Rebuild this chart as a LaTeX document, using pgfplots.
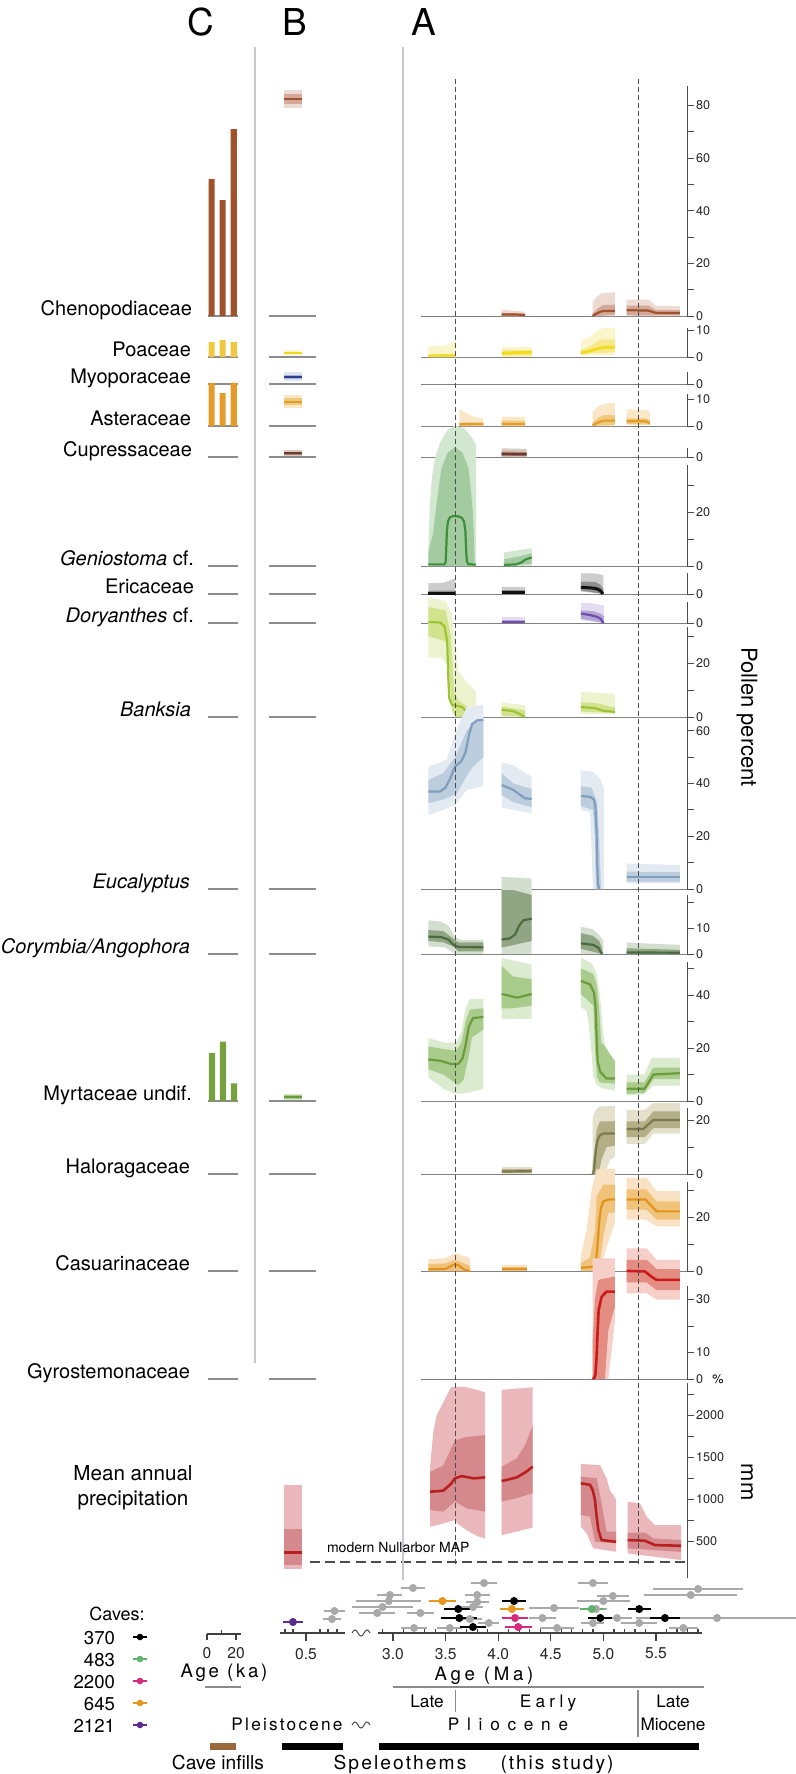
\documentclass[border=0pt]{standalone}
\usepackage{fontspec}
\setmainfont{TeX Gyre Heros}
\usepackage{pgfplots}
\pgfplotsset{compat=1.18}

\definecolor{cheL}{HTML}{A0522D}\definecolor{cheI}{HTML}{D4A999}\definecolor{cheO}{HTML}{EDDAD2}
\definecolor{poaL}{HTML}{F2DA1C}\definecolor{poaI}{HTML}{F7EA8C}\definecolor{poaO}{HTML}{FBF5CC}\definecolor{poaC}{HTML}{F0C840}
\definecolor{myoL}{HTML}{2E3E92}\definecolor{myoI}{HTML}{A8B2D8}\definecolor{myoO}{HTML}{DFE3F1}
\definecolor{astL}{HTML}{E39B2A}\definecolor{astI}{HTML}{F1C97C}\definecolor{astO}{HTML}{F9E7C8}
\definecolor{cupL}{HTML}{6B3B2A}\definecolor{cupI}{HTML}{A88377}\definecolor{cupO}{HTML}{D8C8C2}
\definecolor{genL}{HTML}{3E8E3E}\definecolor{genI}{HTML}{A2CC9F}\definecolor{genO}{HTML}{D2E7CF}
\definecolor{eriL}{HTML}{111111}\definecolor{eriI}{HTML}{8F8F8F}\definecolor{eriO}{HTML}{CDCDCD}
\definecolor{dorL}{HTML}{6F4FA8}\definecolor{dorI}{HTML}{B4A4D7}\definecolor{dorO}{HTML}{E4DDF1}
\definecolor{banL}{HTML}{9DC233}\definecolor{banI}{HTML}{D2E38E}\definecolor{banO}{HTML}{ECF3CE}
\definecolor{eucL}{HTML}{7F9DBD}\definecolor{eucI}{HTML}{BCCDDE}\definecolor{eucO}{HTML}{E3EAF2}
\definecolor{corL}{HTML}{4D6B41}\definecolor{corI}{HTML}{8FA583}\definecolor{corO}{HTML}{D4DECE}
\definecolor{myrL}{HTML}{6B9B3A}\definecolor{myrI}{HTML}{A9CC8C}\definecolor{myrO}{HTML}{DAEBD0}\definecolor{myrC}{HTML}{77A03E}
\definecolor{halL}{HTML}{7B7A4C}\definecolor{halI}{HTML}{B4AE87}\definecolor{halO}{HTML}{E4E0CB}
\definecolor{casL}{HTML}{E2931D}\definecolor{casI}{HTML}{F1C27A}\definecolor{casO}{HTML}{F9E2C3}
\definecolor{gyrL}{HTML}{CC1A1A}\definecolor{gyrI}{HTML}{E48D82}\definecolor{gyrO}{HTML}{F6CFC8}
\definecolor{mapL}{HTML}{B82020}\definecolor{mapI}{HTML}{D6898C}\definecolor{mapO}{HTML}{EAB8BA}
\definecolor{dgray}{HTML}{A9A9A9}\definecolor{cOr}{HTML}{E8961E}\definecolor{cMa}{HTML}{D62A7D}
\definecolor{cGr}{HTML}{5FB36A}\definecolor{cPu}{HTML}{5A2D8C}\definecolor{sepc}{HTML}{C5C8D0}
\definecolor{brn}{HTML}{9B6A3C}

\newcommand{\fs}[1]{\fontsize{#1}{#1}\selectfont}
\newcommand{\bnd}[2]{\addplot[fill=#1,draw=none,forget plot] coordinates {#2};}
\newcommand{\lin}[3][1.1pt]{\addplot[draw=#2,line width=#1,line join=round,forget plot] coordinates {#3};}
\newcommand{\bars}[2]{\addplot[ybar,bar width=3.1pt,fill=#1,draw=none,forget plot] coordinates {#2};}

\pgfplotsset{
 pbase/.style={scale only axis, anchor=south west, clip=false, ymin=0,
   scaled y ticks=false, scaled x ticks=false,
   /pgf/number format/assume math mode=true, /pgf/number format/1000 sep={}},
 pA/.style={pbase, xmin=3.266, xmax=5.795, width=133pt,
   axis x line*=bottom, axis y line*=right,
   x axis line style={draw=black!50, line width=0.5pt, -},
   y axis line style={draw=black!70, line width=0.5pt, -},
   xtick=\empty, tick align=outside, major tick length=3.3pt, minor tick length=3.3pt,
   tick style={draw=black!70, line width=0.5pt},
   yticklabel style={font=\fs{6.3}, text=black!85, inner sep=1pt}},
 pB/.style={pbase, xmin=0.2533, xmax=0.5667, width=23.5pt, hide y axis,
   axis x line*=bottom, x axis line style={draw=black!45, line width=0.6pt, -}, xtick=\empty},
 pC/.style={pbase, xmin=0.69, xmax=21.4, width=15pt, hide y axis,
   axis x line*=bottom, x axis line style={draw=black!45, line width=0.6pt, -}, xtick=\empty},
 pD/.style={pbase, ymax=55, height=27.5pt, hide y axis, axis x line*=bottom,
   x axis line style={draw=black!75, line width=0.6pt, -},
   tick align=outside, major tick length=4pt, tick style={draw=black!75, line width=0.6pt},
   extra x tick labels={}, extra x tick style={tick align=inside, major tick length=2.2pt},
   xticklabel style={font=\fs{7.8}, text=black!85}},
}

\begin{document}
\begin{tikzpicture}
\path[use as bounding box] (0,0) rectangle (398pt,-887pt);

% ---------- Chenopodiaceae
\begin{axis}[pA, at={(210.5pt,-158pt)}, height=115.1pt, ymax=87.5, ytick={0,20,40,60,80}, minor ytick={10,30,50,70}]
\bnd{cheO}{(4.033,2.4)(4.255,1.6)(4.255,0)(4.033,0)}
\bnd{cheI}{(4.033,1.2)(4.255,0.9)(4.255,0)(4.033,0)}
\lin{cheL}{(4.033,0.6)(4.15,0.6)(4.255,0.4)}
\bnd{cheO}{(4.898,5.3)(4.94,7.5)(4.99,8.7)(5.11,9)(5.11,0)(4.898,0)}
\bnd{cheI}{(4.898,1)(4.95,3)(5.0,4.2)(5.11,4.3)(5.11,0.5)(4.95,0)(4.898,0)}
\lin{cheL}{(4.898,0)(4.93,0.8)(4.97,1.6)(5.0,1.9)(5.11,1.9)}
\bnd{cheO}{(5.221,6.2)(5.43,6.2)(5.50,3.9)(5.728,3.7)(5.728,0)(5.221,0)}
\bnd{cheI}{(5.221,4)(5.43,3.9)(5.50,2.3)(5.728,2.2)(5.728,0.2)(5.221,0.3)}
\lin{cheL}{(5.221,2.2)(5.42,2.1)(5.50,1.2)(5.728,1.1)}
\end{axis}
\begin{axis}[pB, at={(134.5pt,-158pt)}, height=115.1pt, ymax=87.5]
\bnd{cheO}{(0.353,85.9)(0.473,85.9)(0.473,79.1)(0.353,79.1)}
\bnd{cheI}{(0.353,84.4)(0.473,84.4)(0.473,80.6)(0.353,80.6)}
\lin{cheL}{(0.353,82.5)(0.473,82.5)}
\end{axis}
\begin{axis}[pC, at={(104pt,-158pt)}, height=115.1pt, ymax=87.5]
\bars{cheL}{(3.2,52)(10.8,44)(18.4,71)}
\end{axis}

% ---------- Poaceae
\begin{axis}[pA, at={(210.5pt,-178.5pt)}, height=14.45pt, ymax=10.7, ytick={0,10}]
\bnd{poaO}{(3.336,4)(3.478,4)(3.55,5)(3.593,5.8)(3.593,0)(3.336,0)}
\bnd{poaI}{(3.336,1)(3.593,1.2)(3.593,0)(3.336,0)}
\lin{poaL}{(3.336,0.5)(3.593,0.6)}
\bnd{poaO}{(4.033,3.6)(4.318,3.6)(4.318,0)(4.033,0)}
\bnd{poaI}{(4.033,2.7)(4.318,2.7)(4.318,0.5)(4.033,0.5)}
\lin[1.4pt]{poaL}{(4.033,1.4)(4.318,1.8)}
\bnd{poaO}{(4.787,5.8)(4.87,7.5)(4.95,10)(5.0,10.7)(5.11,10.7)(5.11,0.8)(4.787,0.6)}
\bnd{poaI}{(4.787,2.7)(4.87,3.8)(4.95,6)(5.0,6.5)(5.11,6.5)(5.11,1.8)(4.95,1.4)(4.787,1)}
\lin[1.4pt]{poaL}{(4.787,1.5)(4.87,2.2)(4.95,3.2)(5.03,3.6)(5.11,3.6)}
\end{axis}
\begin{axis}[pB, at={(134.5pt,-178.5pt)}, height=14.45pt, ymax=10.7]
\bnd{poaO}{(0.353,2.6)(0.473,2.6)(0.473,0.6)(0.353,0.6)}
\lin{poaL}{(0.353,1.5)(0.473,1.5)}
\end{axis}
\begin{axis}[pC, at={(104pt,-178.5pt)}, height=14.45pt, ymax=10.7]
\bars{poaC}{(3.2,5.5)(10.8,6.3)(18.4,5.5)}
\end{axis}

% ---------- Myoporaceae
\begin{axis}[pA, at={(210.5pt,-192pt)}, height=5.94pt, ymax=4.4, ytick={0}]
\end{axis}
\begin{axis}[pB, at={(134.5pt,-192pt)}, height=5.94pt, ymax=4.4]
\bnd{myoO}{(0.353,4.4)(0.473,4.4)(0.473,1.1)(0.353,1.1)}
\bnd{myoI}{(0.353,3.5)(0.473,3.5)(0.473,1.9)(0.353,1.9)}
\lin{myoL}{(0.353,2.7)(0.473,2.7)}
\end{axis}
\begin{axis}[pC, at={(104pt,-192pt)}, height=5.94pt, ymax=4.4]
\end{axis}

% ---------- Asteraceae
\begin{axis}[pA, at={(210.5pt,-213pt)}, height=16.07pt, ymax=11.9, ytick={0,10}]
\bnd{astO}{(3.631,6.2)(3.70,4.7)(3.764,3.5)(3.859,2.8)(3.859,0)(3.631,0)}
\bnd{astI}{(3.631,1.3)(3.859,1.2)(3.859,0)(3.631,0)}
\lin{astL}{(3.631,0.6)(3.75,0.8)(3.859,0.8)}
\bnd{astO}{(4.033,3.5)(4.255,3.3)(4.255,0)(4.033,0)}
\bnd{astI}{(4.033,2)(4.255,1.9)(4.255,0)(4.033,0)}
\lin{astL}{(4.033,0.7)(4.255,0.7)}
\bnd{astO}{(4.898,5.3)(4.95,7.3)(5.03,8.4)(5.11,8.6)(5.11,0)(4.898,0)}
\bnd{astI}{(4.898,1.2)(4.95,3)(5.0,4)(5.11,4)(5.11,0.5)(4.898,0)}
\lin{astL}{(4.898,0.3)(4.95,1.3)(5.0,2)(5.11,2)}
\bnd{astO}{(5.221,6.2)(5.41,5.9)(5.443,5)(5.443,0.5)(5.221,0.3)}
\bnd{astI}{(5.221,2.8)(5.41,2.8)(5.443,2)(5.443,0.5)(5.221,0.8)}
\lin{astL}{(5.221,1.8)(5.40,1.8)(5.443,1)}
\end{axis}
\begin{axis}[pB, at={(134.5pt,-213pt)}, height=16.07pt, ymax=11.9]
\bnd{astO}{(0.353,11.5)(0.473,11.5)(0.473,6.7)(0.353,6.7)}
\bnd{astI}{(0.353,10.4)(0.473,10.4)(0.473,7.8)(0.353,7.8)}
\lin{astL}{(0.353,8.9)(0.473,8.9)}
\end{axis}
\begin{axis}[pC, at={(104pt,-213pt)}, height=16.07pt, ymax=11.9]
\bars{astL}{(3.2,16)(10.8,12.2)(18.4,16)}
\end{axis}

% ---------- Cupressaceae
\begin{axis}[pA, at={(210.5pt,-228.5pt)}, height=4.46pt, ymax=3.3, ytick={0}]
\bnd{cupO}{(4.033,3.2)(4.271,3)(4.271,0)(4.033,0)}
\bnd{cupI}{(4.033,2)(4.271,1.9)(4.271,0.3)(4.033,0.3)}
\lin{cupL}{(4.033,1.1)(4.271,1)}
\end{axis}
\begin{axis}[pB, at={(134.5pt,-228.5pt)}, height=4.46pt, ymax=3.3]
\bnd{cupO}{(0.353,2.6)(0.473,2.6)(0.473,0.3)(0.353,0.3)}
\bnd{cupI}{(0.353,2)(0.473,2)(0.473,0.8)(0.353,0.8)}
\lin{cupL}{(0.353,1.4)(0.473,1.4)}
\end{axis}
\begin{axis}[pC, at={(104pt,-228.5pt)}, height=4.46pt, ymax=3.3]
\end{axis}

% ---------- Geniostoma
\begin{axis}[pA, at={(210.5pt,-283pt)}, height=50.49pt, ymax=37.4, ytick={0,20}, minor ytick={10,30}]
\bnd{genO}{(3.336,7)(3.35,22)(3.37,33)(3.40,40)(3.45,46)(3.52,50.5)(3.59,52)(3.68,51)(3.76,47)(3.789,45)(3.789,0)(3.336,0)}
\bnd{genI}{(3.336,5)(3.38,12)(3.42,25)(3.46,36)(3.52,42)(3.59,44)(3.66,42)(3.72,36)(3.76,20)(3.775,3)(3.775,0)(3.336,0)}
\lin{genL}{(3.336,0.6)(3.49,0.6)(3.50,1.5)(3.505,5)(3.512,13)(3.522,16.5)(3.54,18)(3.57,18.5)(3.62,18.4)(3.655,17.8)(3.675,16.5)(3.688,13)(3.695,6)(3.702,1.8)(3.715,0.7)(3.789,0.5)}
\bnd{genO}{(4.055,5)(4.318,6.6)(4.318,0)(4.055,0)}
\bnd{genI}{(4.055,2.5)(4.2,3.5)(4.318,4.8)(4.318,0.8)(4.055,0)}
\lin{genL}{(4.055,0.4)(4.17,0.6)(4.22,1.3)(4.26,2.4)(4.318,3.2)}
\end{axis}
\begin{axis}[pB, at={(134.5pt,-283pt)}, height=50.49pt, ymax=37.4]
\end{axis}
\begin{axis}[pC, at={(104pt,-283pt)}, height=50.49pt, ymax=37.4]
\end{axis}

% ---------- Ericaceae
\begin{axis}[pA, at={(210.5pt,-297pt)}, height=10.53pt, ymax=7.8, ytick={0}]
\bnd{eriO}{(3.336,4)(3.48,4.2)(3.593,5.8)(3.593,0)(3.336,0)}
\bnd{eriI}{(3.336,1.2)(3.593,1.3)(3.593,0)(3.336,0)}
\lin[1.5pt]{eriL}{(3.336,0.3)(3.593,0.3)}
\bnd{eriO}{(4.033,2.7)(4.255,2.6)(4.255,0)(4.033,0)}
\bnd{eriI}{(4.033,1.5)(4.255,1.5)(4.255,0)(4.033,0)}
\lin[1.5pt]{eriL}{(4.033,0.5)(4.255,0.5)}
\bnd{eriO}{(4.787,7.6)(4.92,7.6)(4.999,7)(4.999,0)(4.94,0.3)(4.787,0.9)}
\bnd{eriI}{(4.787,4.6)(4.92,4.5)(4.97,3.5)(4.999,2)(4.999,0)(4.787,1.3)}
\lin[1.5pt]{eriL}{(4.787,2.5)(4.90,2.2)(4.94,1.9)(4.965,1.4)(4.985,0.6)(4.995,0)}
\end{axis}
\begin{axis}[pB, at={(134.5pt,-297pt)}, height=10.53pt, ymax=7.8]
\end{axis}
\begin{axis}[pC, at={(104pt,-297pt)}, height=10.53pt, ymax=7.8]
\end{axis}

% ---------- Doryanthes
\begin{axis}[pA, at={(210.5pt,-311.5pt)}, height=10.53pt, ymax=7.8, ytick={0}]
\bnd{dorO}{(4.033,2.2)(4.255,2.2)(4.255,0)(4.033,0)}
\bnd{dorI}{(4.033,1.2)(4.255,1.2)(4.255,0)(4.033,0)}
\lin{dorL}{(4.033,0.4)(4.255,0.4)}
\bnd{dorO}{(4.787,7.5)(4.90,7.3)(5.006,6.5)(5.006,0)(4.787,1)}
\bnd{dorI}{(4.787,4.7)(4.90,4.4)(4.97,3.6)(5.006,2.5)(5.006,0)(4.787,1.6)}
\lin{dorL}{(4.787,3.5)(4.88,2.9)(4.94,2.3)(4.975,1.5)(4.995,0.3)(5.0,0)}
\end{axis}
\begin{axis}[pB, at={(134.5pt,-311.5pt)}, height=10.53pt, ymax=7.8]
\end{axis}
\begin{axis}[pC, at={(104pt,-311.5pt)}, height=10.53pt, ymax=7.8]
\end{axis}

% ---------- Banksia
\begin{axis}[pA, at={(210.5pt,-358.5pt)}, height=44.96pt, ymax=33.3, ytick={0,20}, minor ytick={10,30}]
\bnd{banO}{(3.336,44.4)(3.50,43)(3.56,38)(3.59,28)(3.62,17)(3.70,13)(3.789,9.5)(3.789,0)(3.59,0)(3.55,8)(3.51,20)(3.45,22)(3.336,22)}
\bnd{banI}{(3.336,40.7)(3.50,39.5)(3.55,30)(3.58,10)(3.62,6)(3.70,4)(3.76,1)(3.789,0.5)(3.789,0)(3.60,0)(3.56,2)(3.53,20)(3.50,28)(3.336,30)}
\lin{banL}{(3.336,35.2)(3.45,35)(3.49,33.5)(3.515,28)(3.525,15)(3.535,7)(3.56,4.5)(3.65,3.8)(3.69,2.5)(3.72,0.5)(3.789,0)}
\bnd{banO}{(4.033,5.5)(4.255,4.3)(4.255,0)(4.033,0)}
\bnd{banI}{(4.033,3.9)(4.255,2.5)(4.255,0)(4.033,0.5)}
\lin{banL}{(4.033,2.7)(4.14,2.2)(4.20,1.2)(4.255,0)}
\bnd{banO}{(4.787,9.3)(5.11,8.6)(5.11,1)(4.787,1.2)}
\bnd{banI}{(4.787,5.5)(4.95,5)(5.11,3.5)(5.11,1.5)(4.787,2)}
\lin{banL}{(4.787,3.7)(4.92,3.3)(5.0,2.3)(5.11,1.9)}
\end{axis}
\begin{axis}[pB, at={(134.5pt,-358.5pt)}, height=44.96pt, ymax=33.3]
\end{axis}
\begin{axis}[pC, at={(104pt,-358.5pt)}, height=44.96pt, ymax=33.3]
\end{axis}

% ---------- Eucalyptus
\begin{axis}[pA, at={(210.5pt,-444.5pt)}, height=85.51pt, ymax=64.9, ytick={0,20,40,60}, minor ytick={10,30,50}]
\bnd{eucO}{(3.336,46.5)(3.51,49)(3.59,59)(3.70,69)(3.859,70)(3.859,39)(3.70,37.6)(3.59,32)(3.478,30)(3.336,28)}
\bnd{eucI}{(3.336,41.4)(3.478,44)(3.59,50)(3.70,60)(3.78,63.5)(3.859,64)(3.859,50)(3.75,46)(3.70,42.7)(3.60,36)(3.478,34)(3.336,32.5)}
\lin{eucL}{(3.336,37)(3.447,37)(3.50,38.5)(3.55,42.5)(3.59,46.5)(3.65,48.5)(3.69,52)(3.72,58)(3.75,62.5)(3.80,64)(3.859,64.2)}
\bnd{eucO}{(4.033,48)(4.144,47)(4.255,44)(4.318,42.7)(4.318,28.7)(4.144,30)(4.033,31)}
\bnd{eucI}{(4.033,44)(4.144,40)(4.318,38)(4.318,31)(4.144,33)(4.033,35.7)}
\lin{eucL}{(4.033,39.5)(4.144,37.6)(4.255,34.4)(4.318,34.2)}
\bnd{eucO}{(4.787,45)(4.90,44.5)(4.967,42)(5.006,38)(5.006,0)(4.90,0)(4.888,15)(4.873,29)(4.841,29.5)(4.787,30)}
\bnd{eucI}{(4.787,39)(4.888,38.5)(4.94,33)(4.96,20)(4.977,0)(4.93,0)(4.92,20)(4.90,30)(4.787,31.5)}
\lin{eucL}{(4.787,35.3)(4.873,35)(4.91,34)(4.925,31)(4.935,22)(4.94,10)(4.948,2)(4.96,0)}
\bnd{eucO}{(5.221,9.7)(5.728,9.1)(5.728,2.2)(5.221,2.2)}
\bnd{eucI}{(5.221,6.6)(5.728,6.4)(5.728,2.8)(5.221,2.8)}
\lin{eucL}{(5.221,4.7)(5.728,4.7)}
\end{axis}
\begin{axis}[pB, at={(134.5pt,-444.5pt)}, height=85.51pt, ymax=64.9]
\end{axis}
\begin{axis}[pC, at={(104pt,-444.5pt)}, height=85.51pt, ymax=64.9]
\end{axis}

% ---------- Corymbia/Angophora
\begin{axis}[pA, at={(210.5pt,-477pt)}, height=29.51pt, ymax=22.7, ytick={0,10}, minor ytick={20}]
\bnd{corO}{(3.336,13)(3.45,12.5)(3.526,11)(3.589,6.5)(3.65,5.4)(3.859,5.4)(3.859,0)(3.589,0)(3.50,2.5)(3.336,3)}
\bnd{corI}{(3.336,9.2)(3.478,8.8)(3.57,6)(3.62,4.5)(3.859,4.5)(3.859,1)(3.62,1)(3.57,3)(3.478,4.5)(3.336,5)}
\lin{corL}{(3.336,6.7)(3.46,6.5)(3.53,5.5)(3.574,3.5)(3.62,2.7)(3.859,2.6)}
\bnd{corO}{(4.033,29.7)(4.318,29)(4.318,0)(4.033,0)}
\bnd{corI}{(4.033,24.6)(4.144,24.6)(4.318,22.7)(4.318,5)(4.033,2.5)}
\lin{corL}{(4.033,5.6)(4.11,6)(4.16,7.5)(4.20,11)(4.24,13)(4.318,13.6)}
\bnd{corO}{(4.787,10.5)(4.90,9.5)(4.967,7)(4.999,5.4)(4.999,0)(4.787,0)}
\bnd{corI}{(4.787,8)(4.90,7)(4.96,5)(4.99,2)(4.99,0)(4.787,2)}
\lin{corL}{(4.787,4.1)(4.904,3.5)(4.95,2.5)(4.98,0.5)(4.99,0)}
\bnd{corO}{(5.221,4.4)(5.728,3.5)(5.728,0)(5.221,0)}
\bnd{corI}{(5.221,2.2)(5.728,1.6)(5.728,0)(5.221,0)}
\lin{corL}{(5.221,0.6)(5.728,0.5)}
\end{axis}
\begin{axis}[pB, at={(134.5pt,-477pt)}, height=29.51pt, ymax=22.7]
\end{axis}
\begin{axis}[pC, at={(104pt,-477pt)}, height=29.51pt, ymax=22.7]
\end{axis}

% ---------- Myrtaceae undif.
\begin{axis}[pA, at={(210.5pt,-550.5pt)}, height=69.56pt, ymax=52.5, ytick={0,20,40}, minor ytick={10,30,50}]
\bnd{myrO}{(3.336,23.7)(3.50,22)(3.60,22)(3.65,26)(3.69,35)(3.73,38.5)(3.859,38.5)(3.859,4.6)(3.70,3)(3.589,2.7)(3.478,4.6)(3.336,8.9)}
\bnd{myrI}{(3.336,20.6)(3.50,19.5)(3.60,19)(3.65,22)(3.69,30)(3.73,34.5)(3.859,35)(3.859,27)(3.75,24)(3.71,15)(3.67,8)(3.62,6)(3.55,8)(3.478,10)(3.336,12)}
\lin{myrL}{(3.336,15.7)(3.45,15.2)(3.55,14)(3.62,14)(3.66,16)(3.69,21)(3.72,28)(3.76,31.3)(3.859,31.7)}
\bnd{myrO}{(4.033,54)(4.318,51.5)(4.318,31)(4.033,31)}
\bnd{myrI}{(4.033,51)(4.14,47)(4.318,46)(4.318,36)(4.14,35)(4.033,35)}
\lin{myrL}{(4.033,40.4)(4.18,39)(4.318,40.4)}
\bnd{myrO}{(4.787,54)(4.888,52)(4.936,48)(4.967,40)(5.0,25)(5.03,18)(5.11,14.4)(5.11,4)(5.0,4.6)(4.936,6)(4.904,9.5)(4.873,25)(4.841,34)(4.787,35.4)}
\bnd{myrI}{(4.787,50)(4.904,48)(4.936,44)(4.96,35)(4.98,22)(5.015,20.6)(5.11,15)(5.11,6.5)(4.967,7)(4.94,9)(4.92,20)(4.904,36)(4.787,40.4)}
\lin{myrL}{(4.787,45.3)(4.873,44)(4.91,41)(4.925,36)(4.935,25)(4.945,15)(4.97,11)(5.03,8.5)(5.11,8.5)}
\bnd{myrO}{(5.221,10)(5.39,10)(5.46,16.3)(5.728,16.3)(5.728,5.8)(5.475,5.8)(5.38,2.5)(5.221,2.1)}
\bnd{myrI}{(5.221,7)(5.39,7)(5.475,12.6)(5.728,12.6)(5.728,8.3)(5.475,8.3)(5.39,3)(5.221,2.7)}
\lin{myrL}{(5.221,4.6)(5.39,4.6)(5.43,7)(5.475,10)(5.728,10.5)}
\end{axis}
\begin{axis}[pB, at={(134.5pt,-550.5pt)}, height=69.56pt, ymax=52.5]
\bnd{myrO}{(0.353,2.6)(0.473,2.6)(0.473,0.4)(0.353,0.4)}
\bnd{myrI}{(0.353,2.1)(0.473,2.1)(0.473,0.9)(0.353,0.9)}
\lin{myrL}{(0.353,1.5)(0.473,1.5)}
\end{axis}
\begin{axis}[pC, at={(104pt,-550.5pt)}, height=69.56pt, ymax=52.5]
\bars{myrC}{(3.45,18.2)(11,22.4)(18.6,6.7)}
\end{axis}

% ---------- Haloragaceae
\begin{axis}[pA, at={(210.5pt,-587pt)}, height=32.94pt, ymax=24.4, ytick={0,20}, minor ytick={10}]
\bnd{halO}{(4.033,2.6)(4.318,2.6)(4.318,0)(4.033,0)}
\bnd{halI}{(4.033,1.8)(4.318,1.8)(4.318,0.3)(4.033,0.3)}
\lin{halL}{(4.033,0.9)(4.318,1.1)}
\bnd{halO}{(4.898,21)(4.93,24)(4.967,25)(5.11,25.3)(5.11,6.5)(5.063,5.3)(5.015,0)(4.898,0)}
\bnd{halI}{(4.898,4)(4.92,10)(4.936,16.4)(4.967,19.5)(5.11,19.5)(5.11,10.5)(5.03,10)(4.983,5.3)(4.952,0)(4.898,0)}
\lin{halL}{(4.898,0)(4.91,1.5)(4.92,5)(4.93,9.5)(4.945,12.5)(4.967,14.4)(5.0,15)(5.11,15)}
\bnd{halO}{(5.221,23.8)(5.395,23.8)(5.475,26.3)(5.728,26.3)(5.728,15)(5.475,15)(5.395,11.2)(5.221,11.2)}
\bnd{halI}{(5.221,19.5)(5.395,19.5)(5.475,23.2)(5.728,23.2)(5.728,17)(5.475,17)(5.395,13.7)(5.221,13.7)}
\lin{halL}{(5.221,16.7)(5.38,16.7)(5.43,18.5)(5.475,20)(5.728,20)}
\end{axis}
\begin{axis}[pB, at={(134.5pt,-587pt)}, height=32.94pt, ymax=24.4]
\end{axis}
\begin{axis}[pC, at={(104pt,-587pt)}, height=32.94pt, ymax=24.4]
\end{axis}

% ---------- Casuarinaceae
\begin{axis}[pA, at={(210.5pt,-635.5pt)}, height=44.55pt, ymax=33, ytick={0,20}, minor ytick={10,30}]
\bnd{casO}{(3.336,4.3)(3.50,4.8)(3.589,6.6)(3.68,5.5)(3.732,4.7)(3.732,0)(3.336,0)}
\bnd{casI}{(3.336,2.6)(3.50,2.8)(3.589,4.1)(3.70,2.5)(3.732,2)(3.732,0)(3.336,0)}
\lin{casL}{(3.336,0.6)(3.50,0.8)(3.56,2)(3.589,2.5)(3.62,2.2)(3.68,0.5)(3.732,0)}
\bnd{casO}{(4.033,2.2)(4.271,2.2)(4.271,0)(4.033,0)}
\bnd{casI}{(4.033,1.6)(4.271,1.6)(4.271,0)(4.033,0)}
\lin{casL}{(4.033,0.6)(4.271,0.6)}
\bnd{casO}{(4.787,6)(4.841,15.3)(4.888,30)(4.936,37.6)(5.11,38)(5.11,17.8)(5.031,9)(4.967,0)(4.787,0)}
\bnd{casI}{(4.787,2.9)(4.873,5)(4.92,15)(4.936,27.7)(4.999,32)(5.11,32)(5.11,21.5)(5.047,21.5)(4.999,12.8)(4.967,3)(4.936,0)(4.787,0)}
\lin{casL}{(4.787,1.2)(4.904,1.6)(4.93,3.5)(4.945,10)(4.96,18)(4.975,23)(4.999,25.8)(5.05,26.5)(5.11,26.5)}
\bnd{casO}{(5.221,34.5)(5.41,34.5)(5.506,29.6)(5.728,29.6)(5.728,16.5)(5.506,16.5)(5.41,19)(5.221,19)}
\bnd{casI}{(5.221,30.2)(5.41,30.2)(5.506,25.8)(5.728,25.8)(5.728,19)(5.506,19)(5.41,22.7)(5.221,22.7)}
\lin{casL}{(5.221,26.5)(5.40,26.5)(5.46,24)(5.506,22.1)(5.728,22.1)}
\end{axis}
\begin{axis}[pB, at={(134.5pt,-635.5pt)}, height=44.55pt, ymax=33]
\end{axis}
\begin{axis}[pC, at={(104pt,-635.5pt)}, height=44.55pt, ymax=33]
\end{axis}

% ---------- Gyrostemonaceae
\begin{axis}[pA, at={(210.5pt,-689.5pt)}, height=46.38pt, ymax=35, ytick={0,10,30}, minor ytick={20}]
\bnd{gyrO}{(4.898,45.5)(5.11,45.5)(5.11,22)(5.047,0)(4.898,0)}
\bnd{gyrI}{(4.898,14.6)(4.92,30)(4.952,37.4)(5.11,38.7)(5.11,27.3)(5.047,18.5)(5.015,0)(4.898,0)}
\lin[1.3pt]{gyrL}{(4.898,0)(4.915,0.5)(4.925,2)(4.935,8)(4.945,18)(4.955,26)(4.983,31)(5.03,33)(5.11,33)}
\bnd{gyrO}{(5.221,49.3)(5.411,49.3)(5.506,45)(5.728,45)(5.728,30)(5.506,30)(5.411,32.3)(5.221,32.3)}
\bnd{gyrI}{(5.221,45)(5.411,45)(5.506,41.5)(5.728,41.5)(5.728,33.5)(5.506,33.5)(5.411,36.5)(5.221,36.5)}
\lin[1.3pt]{gyrL}{(5.221,40.8)(5.395,40.6)(5.46,38.5)(5.506,37.4)(5.728,37.4)}
\end{axis}
\begin{axis}[pB, at={(134.5pt,-689.5pt)}, height=46.38pt, ymax=35]
\end{axis}
\begin{axis}[pC, at={(104pt,-689.5pt)}, height=46.38pt, ymax=35]
\end{axis}

% ---------- Mean annual precipitation (mm)
\begin{axis}[pA, at={(210.5pt,-789pt)}, height=97.44pt, ymin=60, ymax=2380, axis x line=none,
  ytick={500,1000,1500,2000}, minor ytick={750,1250,1750,2250}]
\bnd{mapO}{(3.352,1380)(3.383,1800)(3.415,2000)(3.478,2150)(3.55,2330)(3.62,2340)(3.70,2330)(3.80,2300)(3.875,2270)(3.875,530)(3.80,560)(3.70,630)(3.62,700)(3.589,750)(3.478,710)(3.352,670)}
\bnd{mapI}{(3.352,1325)(3.478,1400)(3.589,1700)(3.70,1740)(3.875,1760)(3.875,850)(3.70,890)(3.589,970)(3.478,850)(3.352,870)}
\lin[1.3pt]{mapL}{(3.352,1087)(3.478,1100)(3.55,1180)(3.589,1246)(3.653,1274)(3.764,1246)(3.875,1258)}
\bnd{mapO}{(4.033,2300)(4.328,2330)(4.328,660)(4.033,570)}
\bnd{mapI}{(4.033,1385)(4.176,1484)(4.26,1650)(4.328,1880)(4.328,1070)(4.176,1010)(4.033,970)}
\lin[1.3pt]{mapL}{(4.033,1214)(4.176,1258)(4.26,1320)(4.328,1385)}
\bnd{mapO}{(4.787,1417)(4.967,1405)(5.03,1250)(5.063,1100)(5.12,1000)(5.12,373)(4.904,413)(4.841,590)(4.787,670)}
\bnd{mapI}{(4.787,1266)(4.936,1250)(4.977,988)(5.031,611)(5.12,611)(5.12,472)(4.92,492)(4.873,790)(4.787,810)}
\lin[1.3pt]{mapL}{(4.787,1187)(4.873,1170)(4.90,1100)(4.92,988)(4.935,800)(4.952,631)(4.983,512)(5.12,492)}
\bnd{mapO}{(5.231,968)(5.348,950)(5.411,790)(5.491,690)(5.738,690)(5.738,274)(5.231,353)}
\bnd{mapI}{(5.231,599)(5.40,599)(5.475,532)(5.738,512)(5.738,370)(5.475,393)(5.231,413)}
\lin[1.3pt]{mapL}{(5.231,512)(5.395,504)(5.491,452)(5.738,444)}
\addplot[draw=black!70, line width=0.6pt, dash pattern=on 5pt off 2.6pt, forget plot] coordinates {(2.21,250)(5.78,250)};
\end{axis}
\begin{axis}[pB, at={(134.5pt,-789pt)}, height=97.44pt, ymin=60, ymax=2380, axis x line=none]
\bnd{mapO}{(0.353,1167)(0.473,1167)(0.473,163)(0.353,163)}
\bnd{mapI}{(0.353,639)(0.473,639)(0.473,214)(0.353,214)}
\lin[1.3pt]{mapL}{(0.353,361)(0.473,361)}
\end{axis}

% ---------- Dates (Pliocene axis, Ma)
\begin{axis}[pD, at={(189.15pt,-816.5pt)}, width=162pt, xmin=2.86, xmax=5.94,
  xtick={3,3.5,4,4.5,5,5.5}, xticklabels={3.0,3.5,4.0,4.5,5.0,5.5},
  extra x ticks={2.9,3.1,3.2,3.3,3.4,3.6,3.7,3.8,3.9,4.1,4.2,4.3,4.4,4.6,4.7,4.8,4.9,5.1,5.2,5.3,5.4,5.6,5.7,5.8,5.9}]
\addplot[only marks, mark=*, mark size=1.8pt, color=dgray, error bars/.cd, x dir=both, x explicit, error mark=none, error bar style={line width=0.8pt, dgray}]
 coordinates {(3.19,45) +- (0.11,0) (2.97,38) +- (0.12,0) (2.96,32) +- (0.31,0) (2.90,26) +- (0.29,0) (2.85,20) +- (0.17,0)
 (3.865,50) +- (0.12,0) (3.80,38) +- (0.12,0) (3.80,31) +- (0.11,0) (3.26,20) +- (0.13,0) (3.73,14) +- (0.12,0)
 (3.91,10) +- (0.10,0) (3.20,5) +- (0.12,0) (3.54,5) +- (0.12,0) (4.53,25) +- (0.24,0) (4.42,15) +- (0.13,0)
 (4.56,5) +- (0.16,0) (4.90,50) +- (0.14,0) (5.09,37) +- (0.15,0) (5.00,32) +- (0.25,0) (4.90,10) +- (0.11,0)
 (5.13,15) +- (0.14,0) (5.34,10) +- (0.17,0) (5.90,44) +- (0.43,0) (5.83,38) +- (0.44,0) (6.08,15) +- (0.77,0)
 (5.76,5) +- (0.14,0) (3.76,26) +- (0.10,0) (4.93,24) +- (0.10,0)};
\addplot[only marks, mark=*, mark size=1.8pt, color=black, error bars/.cd, x dir=both, x explicit, error mark=none, error bar style={line width=0.8pt, black}]
 coordinates {(4.15,32) +- (0.115,0) (3.62,24) +- (0.14,0) (3.63,15) +- (0.17,0) (3.76,6) +- (0.125,0) (4.97,15) +- (0.115,0) (5.34,24) +- (0.11,0) (5.585,15) +- (0.14,0)};
\addplot[only marks, mark=*, mark size=1.8pt, color=cOr, error bars/.cd, x dir=both, x explicit, error mark=none, error bar style={line width=0.8pt, cOr}]
 coordinates {(3.47,32) +- (0.13,0) (4.13,24) +- (0.115,0)};
\addplot[only marks, mark=*, mark size=1.8pt, color=cMa, error bars/.cd, x dir=both, x explicit, error mark=none, error bar style={line width=0.8pt, cMa}]
 coordinates {(4.16,15) +- (0.12,0) (4.19,6) +- (0.13,0)};
\addplot[only marks, mark=*, mark size=1.8pt, color=cGr, error bars/.cd, x dir=both, x explicit, error mark=none, error bar style={line width=0.8pt, cGr}]
 coordinates {(4.89,24) +- (0.115,0)};
\end{axis}

% ---------- Dates (Pleistocene axis, Ma)
\begin{axis}[pD, at={(140pt,-816.5pt)}, width=32.5pt, xmin=0.3267, xmax=0.76,
  xtick={0.5}, xticklabels={0.5}, extra x ticks={0.36,0.413,0.593,0.647,0.707}]
\addplot[only marks, mark=*, mark size=1.8pt, color=dgray, error bars/.cd, x dir=both, x explicit, error mark=none, error bar style={line width=0.8pt, dgray}]
 coordinates {(0.69,22) +- (0.067,0) (0.673,14) +- (0.063,0)};
\addplot[only marks, mark=*, mark size=1.8pt, color=cPu, error bars/.cd, x dir=both, x explicit, error mark=none, error bar style={line width=0.8pt, cPu}]
 coordinates {(0.413,11) +- (0.067,0)};
\end{axis}

% ---------- Age (ka) axis
\begin{axis}[pD, at={(103.5pt,-817pt)}, width=17pt, xmin=0, xmax=23.4, ymax=10, height=5pt,
  xtick={0,20}, xticklabels={0,20}, extra x ticks={10}, major tick length=3pt]
\end{axis}

\begin{scope}[x=0.5pt,y=-0.5pt]
% separators and dashed lines
\draw[sepc, line width=0.6pt] (255,47) -- (255,1363);
\draw[sepc, line width=0.6pt] (403,47) -- (403,1580);
\draw[black!70, line width=0.45pt, dash pattern=on 2.4pt off 1.6pt] (455.8,79) -- (455.8,1567);
\draw[black!70, line width=0.45pt, dash pattern=on 2.4pt off 1.6pt] (638.2,79) -- (638.2,1567);
% panel letters
\node[font=\fs{18.5}, anchor=base] at (201,35) {C};
\node[font=\fs{18.5}, anchor=base] at (295,35) {B};
\node[font=\fs{18.5}, anchor=base] at (424,35) {A};
% row labels
\node[anchor=base east, font=\fs{10}] at (199,315) {Chenopodiaceae};
\node[anchor=base east, font=\fs{10}] at (198,356) {Poaceae};
\node[anchor=base east, font=\fs{10}] at (198,383) {Myoporaceae};
\node[anchor=base east, font=\fs{10}] at (198,425) {Asteraceae};
\node[anchor=base east, font=\fs{10}] at (199,456) {Cupressaceae};
\node[anchor=base east, font=\fs{10}] at (201,565) {\textit{Geniostoma} cf.};
\node[anchor=base east, font=\fs{10}] at (201,593) {Ericaceae};
\node[anchor=base east, font=\fs{10}] at (201,622) {\textit{Doryanthes} cf.};
\node[anchor=base east, font=\fs{10}] at (198,716) {\textit{Banksia}};
\node[anchor=base east, font=\fs{10}] at (197,888) {\textit{Eucalyptus}};
\node[anchor=base east, font=\fs{10}] at (197,953) {\textit{Corymbia/Angophora}};
\node[anchor=base east, font=\fs{10}] at (199,1100) {Myrtaceae undif.};
\node[anchor=base east, font=\fs{10}] at (197,1173) {Haloragaceae};
\node[anchor=base east, font=\fs{10}] at (197,1270) {Casuarinaceae};
\node[anchor=base east, font=\fs{10}] at (197,1378) {Gyrostemonaceae};
\node[anchor=base, font=\fs{10.3}] at (133,1480) {Mean annual};
\node[anchor=base, font=\fs{10.3}] at (133,1505) {precipitation};
% right labels
\node[rotate=-90, font=\fs{11}] at (747,717) {Pollen percent};
\node[rotate=-90, font=\fs{11}] at (747,1482) {mm};
\node[anchor=west, font=\fs{6.3}, inner sep=0pt] at (712,1379) {\%};
\node[anchor=base west, font=\fs{7}] at (320,1552) {modern Nullarbor MAP};
% legend
\node[anchor=base, font=\fs{9}] at (117,1620) {Caves:};
\node[anchor=base east, font=\fs{9.3}] at (122,1644) {370};
\node[anchor=base east, font=\fs{9.3}] at (122,1666) {483};
\node[anchor=base east, font=\fs{9.3}] at (122,1688) {2200};
\node[anchor=base east, font=\fs{9.3}] at (122,1710) {645};
\node[anchor=base east, font=\fs{9.3}] at (122,1732) {2121};
\draw[black, line width=0.7pt] (133,1637) -- (147,1637); \fill[black] (140,1637) circle (1.65pt);
\draw[cGr, line width=0.7pt] (133,1659) -- (147,1659); \fill[cGr] (140,1659) circle (1.65pt);
\draw[cMa, line width=0.7pt] (133,1681) -- (147,1681); \fill[cMa] (140,1681) circle (1.65pt);
\draw[cOr, line width=0.7pt] (133,1703) -- (147,1703); \fill[cOr] (140,1703) circle (1.65pt);
\draw[cPu, line width=0.7pt] (133,1725) -- (147,1725); \fill[cPu] (140,1725) circle (1.65pt);
% axis break marks
\draw[black!70, line width=0.5pt] (352,1633) .. controls (354,1629) and (356,1629) .. (358,1633) .. controls (360,1637) and (362,1637) .. (364,1633) .. controls (366,1629) and (368,1629) .. (370,1633);
\draw[black!70, line width=0.5pt] (352,1725) .. controls (354,1721) and (356,1721) .. (358,1725) .. controls (360,1729) and (362,1729) .. (364,1725) .. controls (366,1721) and (368,1721) .. (370,1725);
% bottom labels
\node[anchor=base, font=\fs{9.3}] at (484,1680) {\addfontfeature{LetterSpace=20}Age (Ma)};
\node[anchor=base, font=\fs{9.3}] at (224,1677) {\addfontfeature{LetterSpace=15}Age (ka)};
\draw[black!45, line width=0.6pt] (393,1687) -- (704,1687);
\draw[black!45, line width=0.6pt] (205,1687) -- (241,1687);
\draw[black!45, line width=0.6pt] (455.5,1690) -- (455.5,1712);
\draw[black!45, line width=0.6pt] (638,1690) -- (638,1737);
\node[anchor=base, font=\fs{8.6}] at (427,1707) {Late};
\node[anchor=base, font=\fs{8.6}] at (548,1707) {\addfontfeature{LetterSpace=25}Early};
\node[anchor=base, font=\fs{8.6}] at (673,1707) {Late};
\node[anchor=base, font=\fs{8.6}] at (508,1730) {\addfontfeature{LetterSpace=45}Pliocene};
\node[anchor=base, font=\fs{8.6}] at (673,1730) {Miocene};
\node[anchor=base, font=\fs{8.6}] at (287,1730) {\addfontfeature{LetterSpace=13}Pleistocene};
\fill[brn] (210,1743) rectangle (236,1750);
\fill[black] (282,1743) rectangle (343,1750);
\fill[black] (379,1743) rectangle (699,1750);
\node[anchor=base, font=\fs{9.6}] at (218,1769) {Cave infills};
\node[anchor=base, font=\fs{9.6}] at (400,1769) {\addfontfeature{LetterSpace=11}Speleothems};
\node[anchor=base, font=\fs{9.6}] at (557,1769) {\addfontfeature{LetterSpace=10}(this study)};
\end{scope}
\end{tikzpicture}
\end{document}
